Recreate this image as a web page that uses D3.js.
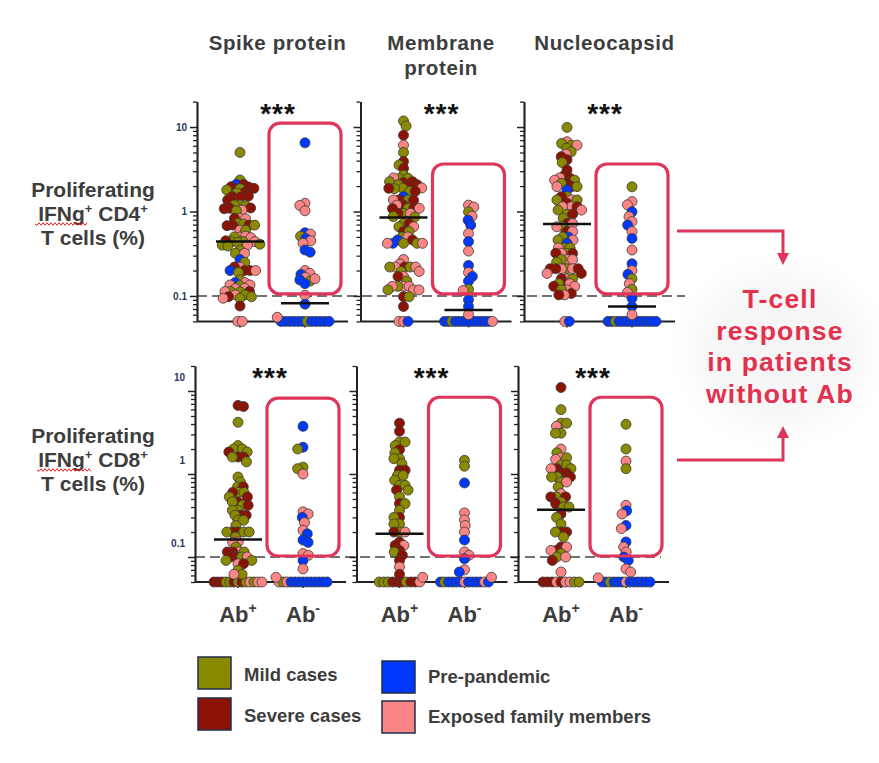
<!DOCTYPE html>
<html><head><meta charset="utf-8">
<script src="https://cdn.jsdelivr.net/npm/d3@7"></script>
<style>body{margin:0;background:#fff}svg{display:block}</style>
</head><body><svg id="c" width="879" height="763"></svg>
<script>
// ---------------- DATA ----------------
const antigens = ["Spike protein", "Membrane protein", "Nucleocapsid"];
const headerLines = [["Spike protein"], ["Membrane", "protein"], ["Nucleocapsid"]];
const groups = ["Ab+", "Ab-"];
const tickValuesMajor = [0.1, 1, 10];
const tickLabelText = ["0.1", "1", "10"];
const legendKeys = ["M", "S", "B", "F"];
const legendNames = ["Mild cases", "Severe cases", "Pre-pandemic", "Exposed family members"];
const significance = ["***", "***", "***"];
const calloutLines = ["T-cell", "response", "in patients", "without Ab"];
const thresholdValue = 0.1;
const floorValue = 0.05;
// upper edge (in %) of the highlight boxes drawn around the Ab- columns
const cd4BoxTop = [11.1, 3.65, 3.65];
const cd8BoxTop = [8.2, 8.4, 8.4];

const cd4SpikePos = [[5.0,"M"],[2.36,"M"],[2.1,"B"],[2.1,"S"],[1.97,"S"],[1.95,"S"],[1.88,"S"],[1.86,"M"],[1.8,"M"],[1.67,"S"],[1.65,"M"],[1.5,"S"],[1.52,"S"],[1.48,"S"],[1.37,"S"],[1.2,"M"],[1.19,"M"],[1.17,"M"],[1.09,"S"],[1.1,"S"],[1.08,"S"],[1.04,"F"],[1.02,"M"],[0.83,"F"],[0.83,"S"],[0.82,"F"],[0.72,"M"],[0.71,"M"],[0.69,"S"],[0.69,"S"],[0.68,"S"],[0.69,"M"],[0.6,"F"],[0.6,"M"],[0.5,"F"],[0.51,"F"],[0.5,"M"],[0.49,"F"],[0.44,"M"],[0.44,"M"],[0.45,"S"],[0.44,"F"],[0.43,"M"],[0.4,"F"],[0.4,"M"],[0.41,"M"],[0.39,"M"],[0.35,"M"],[0.32,"M"],[0.32,"F"],[0.27,"B"],[0.25,"M"],[0.22,"F"],[0.22,"S"],[0.2,"S"],[0.2,"S"],[0.2,"B"],[0.2,"F"],[0.19,"M"],[0.155,"M"],[0.144,"B"],[0.144,"F"],[0.135,"F"],[0.135,"F"],[0.133,"M"],[0.123,"F"],[0.122,"F"],[0.113,"M"],[0.113,"S"],[0.112,"M"],[0.113,"F"],[0.103,"F"],[0.103,"M"],[0.098,"S"],[0.098,"M"],[0.094,"M"],[0.094,"F"],[0.076,"S"],[0.05,"F"],[0.05,"F"]];
const cd4SpikeNeg = [[6.5,"B"],[1.25,"F"],[1.18,"F"],[1.02,"F"],[0.56,"B"],[0.54,"F"],[0.51,"M"],[0.48,"B"],[0.45,"F"],[0.42,"F"],[0.35,"B"],[0.33,"B"],[0.2,"F"],[0.185,"F"],[0.18,"B"],[0.165,"F"],[0.155,"B"],[0.15,"M"],[0.16,"F"],[0.14,"B"],[0.102,"F"],[0.08,"B"],[0.056,"F"],[0.05,"B"],[0.05,"B"],[0.05,"B"],[0.05,"B"],[0.05,"B"],[0.05,"B"],[0.05,"M"],[0.05,"B"],[0.05,"B"],[0.05,"B"],[0.05,"B"],[0.05,"B"]];
const cd4MembranePos = [[11.8,"M"],[10.3,"M"],[8.0,"S"],[6.1,"F"],[5.0,"M"],[3.9,"S"],[3.55,"M"],[3.24,"S"],[2.7,"M"],[2.47,"M"],[2.45,"M"],[2.5,"F"],[2.25,"S"],[2.25,"M"],[2.2,"S"],[2.07,"M"],[2.07,"S"],[2.0,"S"],[1.88,"M"],[1.86,"M"],[1.88,"S"],[1.9,"F"],[1.73,"M"],[1.73,"S"],[1.5,"B"],[1.37,"M"],[1.37,"S"],[1.36,"S"],[1.37,"F"],[1.19,"S"],[1.19,"F"],[1.09,"M"],[1.09,"S"],[1.08,"S"],[1.09,"F"],[0.95,"M"],[0.95,"S"],[0.95,"F"],[0.87,"M"],[0.86,"M"],[0.72,"M"],[0.72,"S"],[0.66,"M"],[0.66,"F"],[0.58,"S"],[0.58,"M"],[0.5,"M"],[0.5,"F"],[0.46,"B"],[0.46,"S"],[0.42,"M"],[0.42,"B"],[0.42,"M"],[0.42,"F"],[0.42,"F"],[0.27,"F"],[0.24,"F"],[0.22,"S"],[0.22,"M"],[0.22,"F"],[0.22,"F"],[0.22,"M"],[0.195,"M"],[0.195,"F"],[0.17,"F"],[0.17,"S"],[0.15,"M"],[0.13,"F"],[0.13,"M"],[0.13,"F"],[0.13,"F"],[0.118,"F"],[0.118,"F"],[0.118,"M"],[0.098,"S"],[0.098,"M"],[0.075,"S"],[0.05,"F"],[0.05,"F"],[0.05,"B"]];
const cd4MembraneNeg = [[1.19,"F"],[1.13,"F"],[0.99,"M"],[0.88,"F"],[0.79,"B"],[0.69,"B"],[0.55,"F"],[0.44,"B"],[0.34,"F"],[0.23,"B"],[0.19,"F"],[0.17,"B"],[0.15,"B"],[0.12,"M"],[0.116,"F"],[0.09,"B"],[0.075,"B"],[0.06,"F"],[0.05,"B"],[0.05,"B"],[0.05,"M"],[0.05,"B"],[0.05,"B"],[0.05,"B"],[0.05,"B"],[0.05,"B"],[0.05,"B"],[0.05,"B"],[0.05,"B"],[0.05,"B"],[0.05,"B"],[0.05,"F"]];
const cd4NucleoPos = [[9.9,"M"],[6.7,"F"],[6.4,"M"],[6.1,"M"],[6.1,"F"],[5.6,"M"],[5.1,"M"],[4.8,"F"],[4.45,"S"],[4.1,"S"],[3.8,"M"],[3.1,"S"],[2.7,"S"],[2.5,"S"],[2.5,"F"],[2.35,"M"],[2.35,"F"],[2.16,"S"],[2.16,"M"],[1.97,"S"],[1.97,"F"],[1.97,"M"],[1.8,"B"],[1.5,"M"],[1.5,"S"],[1.37,"F"],[1.37,"M"],[1.37,"M"],[1.25,"S"],[1.14,"F"],[1.14,"F"],[1.14,"S"],[1.04,"M"],[1.04,"F"],[0.93,"M"],[0.93,"S"],[0.83,"M"],[0.72,"S"],[0.72,"F"],[0.66,"M"],[0.66,"F"],[0.58,"S"],[0.58,"F"],[0.5,"B"],[0.5,"M"],[0.46,"F"],[0.46,"M"],[0.42,"B"],[0.37,"M"],[0.37,"M"],[0.37,"F"],[0.32,"M"],[0.32,"F"],[0.32,"S"],[0.32,"S"],[0.27,"F"],[0.27,"M"],[0.27,"F"],[0.25,"M"],[0.21,"M"],[0.21,"F"],[0.21,"F"],[0.21,"S"],[0.21,"S"],[0.21,"S"],[0.185,"S"],[0.185,"F"],[0.16,"F"],[0.16,"S"],[0.16,"M"],[0.14,"S"],[0.14,"F"],[0.14,"M"],[0.13,"F"],[0.13,"S"],[0.118,"F"],[0.118,"M"],[0.107,"S"],[0.103,"F"],[0.103,"S"],[0.05,"F"],[0.05,"B"]];
const cd4NucleoNeg = [[1.96,"M"],[1.31,"F"],[1.2,"F"],[0.99,"B"],[0.87,"F"],[0.76,"F"],[0.69,"B"],[0.58,"F"],[0.48,"B"],[0.35,"F"],[0.24,"B"],[0.2,"F"],[0.18,"B"],[0.16,"M"],[0.14,"F"],[0.12,"M"],[0.11,"F"],[0.094,"B"],[0.075,"B"],[0.06,"F"],[0.05,"B"],[0.05,"B"],[0.05,"M"],[0.05,"B"],[0.05,"B"],[0.05,"B"],[0.05,"B"],[0.05,"B"],[0.05,"B"],[0.05,"B"],[0.05,"B"],[0.05,"B"],[0.05,"B"],[0.05,"B"]];
const cd8SpikePos = [[6.7,"S"],[6.5,"S"],[4.2,"M"],[2.2,"M"],[2.0,"M"],[2.0,"M"],[1.84,"S"],[1.84,"M"],[1.6,"S"],[1.6,"S"],[1.6,"M"],[1.4,"M"],[0.92,"M"],[0.8,"M"],[0.7,"M"],[0.7,"S"],[0.6,"M"],[0.6,"S"],[0.6,"M"],[0.53,"M"],[0.53,"S"],[0.46,"S"],[0.46,"M"],[0.42,"M"],[0.42,"S"],[0.365,"M"],[0.365,"M"],[0.318,"S"],[0.318,"M"],[0.318,"S"],[0.277,"M"],[0.277,"M"],[0.24,"M"],[0.2,"S"],[0.2,"S"],[0.2,"M"],[0.2,"M"],[0.2,"M"],[0.174,"M"],[0.152,"F"],[0.15,"F"],[0.132,"M"],[0.115,"F"],[0.115,"S"],[0.115,"M"],[0.115,"S"],[0.1,"S"],[0.1,"M"],[0.1,"S"],[0.1,"F"],[0.091,"M"],[0.091,"M"],[0.083,"F"],[0.083,"S"],[0.069,"M"],[0.062,"M"],[0.062,"F"],[0.05,"S"],[0.05,"S"],[0.05,"S"],[0.05,"M"],[0.05,"M"],[0.05,"S"],[0.05,"M"],[0.05,"S"],[0.05,"M"],[0.05,"F"],[0.05,"M"],[0.05,"F"],[0.05,"F"]];
const cd8SpikeNeg = [[3.75,"B"],[2.1,"B"],[2.0,"M"],[1.21,"M"],[1.16,"M"],[1.0,"F"],[0.35,"F"],[0.33,"F"],[0.3,"B"],[0.26,"F"],[0.21,"F"],[0.19,"B"],[0.16,"B"],[0.15,"B"],[0.11,"F"],[0.105,"F"],[0.091,"B"],[0.072,"F"],[0.057,"F"],[0.05,"F"],[0.05,"M"],[0.05,"F"],[0.05,"B"],[0.05,"B"],[0.05,"B"],[0.05,"B"],[0.05,"B"],[0.05,"B"],[0.05,"B"],[0.05,"B"],[0.05,"B"],[0.05,"B"]];
const cd8MembranePos = [[4.1,"S"],[3.27,"S"],[2.43,"M"],[2.43,"M"],[2.2,"M"],[1.96,"S"],[1.8,"M"],[1.53,"M"],[1.53,"M"],[1.33,"M"],[1.11,"S"],[1.11,"S"],[0.96,"M"],[0.96,"M"],[0.84,"M"],[0.73,"M"],[0.73,"M"],[0.64,"S"],[0.64,"M"],[0.53,"M"],[0.44,"S"],[0.44,"M"],[0.365,"M"],[0.3,"S"],[0.3,"M"],[0.25,"M"],[0.25,"M"],[0.2,"M"],[0.2,"S"],[0.2,"F"],[0.152,"S"],[0.138,"F"],[0.138,"S"],[0.12,"S"],[0.115,"M"],[0.105,"S"],[0.091,"S"],[0.076,"F"],[0.062,"S"],[0.057,"F"],[0.05,"M"],[0.05,"M"],[0.05,"M"],[0.05,"S"],[0.05,"S"],[0.05,"S"],[0.05,"M"],[0.05,"S"],[0.05,"S"],[0.05,"F"]];
const cd8MembraneNeg = [[1.46,"M"],[1.24,"M"],[0.78,"B"],[0.34,"F"],[0.28,"F"],[0.24,"F"],[0.2,"F"],[0.16,"B"],[0.115,"F"],[0.105,"F"],[0.095,"B"],[0.07,"F"],[0.066,"B"],[0.057,"F"],[0.05,"B"],[0.05,"M"],[0.05,"B"],[0.05,"B"],[0.05,"B"],[0.05,"B"],[0.05,"F"],[0.05,"B"],[0.05,"B"],[0.05,"B"],[0.05,"B"],[0.05,"F"],[0.05,"B"]];
const cd8NucleoPos = [[11.0,"S"],[5.96,"M"],[4.1,"M"],[4.1,"M"],[3.75,"F"],[3.1,"M"],[3.1,"M"],[2.0,"F"],[1.8,"M"],[1.57,"F"],[1.57,"M"],[1.5,"F"],[1.28,"M"],[1.28,"M"],[1.16,"S"],[1.16,"F"],[1.16,"M"],[1.03,"S"],[1.03,"S"],[0.92,"M"],[0.92,"S"],[0.92,"M"],[0.8,"M"],[0.8,"F"],[0.7,"M"],[0.58,"F"],[0.53,"M"],[0.53,"S"],[0.53,"S"],[0.46,"M"],[0.44,"S"],[0.4,"M"],[0.4,"M"],[0.33,"S"],[0.3,"M"],[0.25,"M"],[0.2,"S"],[0.2,"S"],[0.2,"M"],[0.174,"M"],[0.132,"S"],[0.132,"F"],[0.12,"S"],[0.12,"F"],[0.11,"M"],[0.1,"M"],[0.1,"F"],[0.091,"S"],[0.066,"F"],[0.05,"S"],[0.05,"S"],[0.05,"S"],[0.05,"F"],[0.05,"S"],[0.05,"F"],[0.05,"F"],[0.05,"M"],[0.05,"M"]];
const cd8NucleoNeg = [[3.97,"M"],[2.0,"M"],[1.43,"F"],[1.16,"M"],[0.42,"F"],[0.36,"B"],[0.33,"F"],[0.24,"B"],[0.22,"F"],[0.152,"B"],[0.132,"F"],[0.115,"F"],[0.1,"B"],[0.091,"B"],[0.072,"F"],[0.066,"F"],[0.056,"F"],[0.05,"B"],[0.05,"B"],[0.05,"M"],[0.05,"B"],[0.05,"B"],[0.05,"B"],[0.05,"F"],[0.05,"B"],[0.05,"B"],[0.05,"B"],[0.05,"B"],[0.05,"B"],[0.05,"B"]];

const cd4Medians = [[0.44, 0.082], [0.85, 0.068], [0.71, 0.075]];
const cd8Medians = [[0.162, null], [0.19, null], [0.372, null]];

// ---------------- STYLE / LAYOUT ----------------
const colors = {M: "#8a8a00", S: "#8c1204", B: "#0038ff", F: "#fb8585"};
const FONT = "'Liberation Sans', Arial, sans-serif";
const TXT = "#3d3d3d";
const RED = "#e0355a";

const rows = [
  {label: ["Proliferating", "CD4"], data: [[cd4SpikePos, cd4SpikeNeg], [cd4MembranePos, cd4MembraneNeg], [cd4NucleoPos, cd4NucleoNeg]],
   medians: cd4Medians, boxTop: cd4BoxTop, y: d3.scaleLog().domain([0.05, 20]).range([321.4, 101.6]),
   xr: [197, 524], labelY: 197, labelDy: 0, dashEnd: 685, starDx: 81, starY: 107, boxGap: 2},
  {label: ["Proliferating", "CD8"], data: [[cd8SpikePos, cd8SpikeNeg], [cd8MembranePos, cd8MembraneNeg], [cd8NucleoPos, cd8NucleoNeg]],
   medians: cd8Medians, boxTop: cd8BoxTop, y: d3.scaleLog().domain([0.05, 20]).range([582, 366]),
   xr: [195, 518], labelY: 443, labelDy: -14, dashEnd: 661, starDx: 75, starY: 371, boxGap: 1}
];
const catX = d3.scalePoint().domain(groups).range([43, 108]);
const PANEL_W = 151;
const R = 5, D = 5.6;

const svg = d3.select("#c");
const defs = svg.append("defs");
const f = defs.append("filter").attr("id", "blur").attr("x", "-50%").attr("y", "-50%").attr("width", "200%").attr("height", "200%");
f.append("feGaussianBlur").attr("stdDeviation", 18);

function swarm(points, y, cx) {
  const placed = [];
  const floor = points.filter(p => p[0] <= floorValue);
  const n = floor.length, s = n > 1 ? Math.min(4.5, 48 / (n - 1)) : 0;
  floor.forEach((p, i) => placed.push({x: cx + (i - (n - 1) / 2) * s, y: y(p[0]), g: p[1]}));
  let flip = 1;
  points.filter(p => p[0] > floorValue).forEach(p => {
    const py = y(p[0]);
    const near = placed.filter(q => Math.abs(q.y - py) < D);
    const cands = [0];
    near.forEach(q => { const dx = Math.sqrt(D * D - (q.y - py) ** 2); cands.push(q.x - cx + dx, q.x - cx - dx); });
    cands.sort((a, b) => Math.abs(a) - Math.abs(b) || (a - b) * flip);
    flip = -flip;
    for (const c of cands) {
      if (near.every(q => (q.x - cx - c) ** 2 + (q.y - py) ** 2 >= D * D - 0.01)) { placed.push({x: cx + c, y: py, g: p[1]}); break; }
    }
  });
  return placed;
}

// glow behind callout
svg.append("ellipse").attr("cx", 780).attr("cy", 350).attr("rx", 88).attr("ry", 78)
  .attr("fill", "#000").attr("opacity", 0.035).attr("filter", "url(#blur)");

// column headers
headerLines.forEach((lines, i) => {
  const px = d3.scalePoint().domain(antigens).range(rows[0].xr)(antigens[i]);
  const t = svg.append("text").attr("x", px + 80.5).attr("y", 50).attr("text-anchor", "middle")
    .attr("font-family", FONT).attr("font-weight", "bold").attr("font-size", 20.5).attr("letter-spacing", 0.6).attr("fill", TXT);
  lines.forEach((l, j) => t.append("tspan").attr("x", px + 80.5).attr("dy", j ? 25 : 0).text(l));
});

rows.forEach((row, ri) => {
  const panelX = d3.scalePoint().domain(antigens).range(row.xr);
  const y = row.y;
  const g = svg.append("g");
  // row label
  const lx = 93;
  const lab = g.append("text").attr("text-anchor", "middle").attr("font-family", FONT).attr("font-weight", "bold")
    .attr("font-size", 21).attr("fill", TXT);
  lab.append("tspan").attr("x", lx).attr("y", row.labelY).text(row.label[0]);
  lab.append("tspan").attr("x", lx).attr("y", row.labelY + 24).text("IFNg");
  lab.append("tspan").attr("font-size", 13).attr("dy", -8).text("+");
  lab.append("tspan").attr("dy", 8).text(" " + row.label[1]);
  lab.append("tspan").attr("font-size", 13).attr("dy", -8).text("+");
  lab.append("tspan").attr("x", lx).attr("y", row.labelY + 48).text("T cells (%)");
  // spell-check squiggle under IFNg
  const sx0 = ri ? 37 : 35, sx1 = ri ? 91 : 86, sy = row.labelY + 27;
  let dpath = `M${sx0},${sy}`;
  for (let x = sx0, k = 0; x < sx1; x += 2, k++) dpath += ` L${x + 2},${sy + (k % 2 ? -1.3 : 1.3)}`;
  g.append("path").attr("d", dpath).attr("fill", "none").attr("stroke", "#e02020").attr("stroke-width", 1);

  // dashed threshold line across the row
  g.append("line").attr("x1", row.xr[0]).attr("x2", row.dashEnd).attr("y1", y(thresholdValue)).attr("y2", y(thresholdValue))
    .attr("stroke", "#444").attr("stroke-width", 1.5).attr("stroke-dasharray", "10,5");

  antigens.forEach((ag, ai) => {
    const left = panelX(ag);
    const pg = g.append("g").attr("transform", `translate(${left},0)`);
    // minor ticks
    const minor = [];
    [0.01, 0.1, 1, 10].forEach(dec => { for (let k = 2; k <= 9; k++) { const v = dec * k; if (v >= 0.05 && v <= 20 && !tickValuesMajor.includes(v)) minor.push(v); } });
    pg.append("g").call(d3.axisLeft(y).tickValues(minor).tickSize(4).tickSizeOuter(0).tickFormat(""))
      .call(s => s.selectAll("line,path").attr("stroke", "#222").attr("stroke-width", 1.3));
    const ax = pg.append("g").call(d3.axisLeft(y).tickValues(tickValuesMajor).tickSize(7).tickPadding(3).tickSizeOuter(0)
      .tickFormat((d, i) => ai === 0 ? tickLabelText[i] : ""));
    ax.selectAll("line").attr("stroke", "#222").attr("stroke-width", 1.5);
    ax.select("path").attr("stroke", "#222").attr("stroke-width", 2);
    ax.selectAll("text").attr("font-family", FONT).attr("font-weight", "bold").attr("font-size", 10)
      .attr("fill", "#1f3864").attr("dy", (0.32 * 10 + row.labelDy) + "px");
    // x axis
    const yb = y(floorValue);
    pg.append("line").attr("x1", 0).attr("x2", PANEL_W).attr("y1", yb).attr("y2", yb).attr("stroke", "#222").attr("stroke-width", 2);
    groups.forEach(gr => pg.append("line").attr("x1", catX(gr)).attr("x2", catX(gr)).attr("y1", yb).attr("y2", yb + 6)
      .attr("stroke", "#222").attr("stroke-width", 1.5));
    // dots
    groups.forEach((gr, gi) => {
      const pts = swarm(row.data[ai][gi], y, catX(gr));
      pg.append("g").selectAll("circle").data(pts).join("circle")
        .attr("cx", d => d.x).attr("cy", d => d.y).attr("r", R)
        .attr("fill", d => colors[d.g]).attr("stroke", "#3a3a3a").attr("stroke-width", 0.8);
    });
    // medians
    groups.forEach((gr, gi) => {
      const m = row.medians[ai][gi];
      if (m == null) return;
      pg.append("line").attr("x1", catX(gr) - 24).attr("x2", catX(gr) + 24).attr("y1", y(m)).attr("y2", y(m))
        .attr("stroke", "#111").attr("stroke-width", 2.5);
    });
    // significance
    pg.append("text").attr("x", row.starDx).attr("y", row.starY + 16).attr("text-anchor", "middle")
      .attr("font-family", FONT).attr("font-weight", "bold").attr("font-size", 28).attr("letter-spacing", 1)
      .attr("fill", "#111").text(significance[ai]);
    // highlight box around Ab- values above threshold
    const bTop = y(row.boxTop[ai]), bBot = y(thresholdValue) - row.boxGap;
    pg.append("rect").attr("x", catX("Ab-") - 36).attr("width", 72)
      .attr("y", bTop).attr("height", bBot - bTop)
      .attr("rx", 11).attr("fill", "none").attr("stroke", RED).attr("stroke-width", 3.2);
    // Ab labels (bottom row only)
    if (ri === 1) {
      groups.forEach(gr => {
        const t = pg.append("text").attr("x", catX(gr)).attr("y", 622).attr("text-anchor", "middle")
          .attr("font-family", FONT).attr("font-weight", "bold").attr("font-size", 22).attr("fill", TXT);
        t.append("tspan").text("Ab");
        t.append("tspan").attr("font-size", 14).attr("dy", -9).text(gr.slice(2));
      });
    }
  });
});

// arrows and callout
const ag = svg.append("g").attr("stroke", RED).attr("fill", "none").attr("stroke-width", 3);
ag.append("path").attr("d", "M677,231 H783 V254");
ag.append("path").attr("d", "M677,460 H783 V437");
svg.append("path").attr("d", "M777,253 L789,253 L783,265 Z").attr("fill", RED);
svg.append("path").attr("d", "M777,438 L789,438 L783,426 Z").attr("fill", RED);
const ct = svg.append("text").attr("text-anchor", "middle").attr("font-family", FONT).attr("font-weight", "bold")
  .attr("font-size", 26.5).attr("letter-spacing", 1.2).attr("fill", "#e2304f");
calloutLines.forEach((l, i) => ct.append("tspan").attr("x", 780).attr("y", 308 + i * 31.7).text(l));

// legend
const legPos = {M: [198, 657, 244, 681], S: [198, 698, 244, 722], B: [382, 661, 428, 683], F: [382, 701, 428, 723]};
legendKeys.forEach((k, i) => {
  const p = legPos[k];
  svg.append("rect").attr("x", p[0]).attr("y", p[1]).attr("width", 33).attr("height", 32)
    .attr("fill", colors[k]).attr("stroke", "#1f2d4d").attr("stroke-width", 1.5);
  svg.append("text").attr("x", p[2]).attr("y", p[3]).attr("font-family", FONT).attr("font-weight", "bold")
    .attr("font-size", 18.5).attr("fill", TXT).text(legendNames[i]);
});
</script></body></html>
